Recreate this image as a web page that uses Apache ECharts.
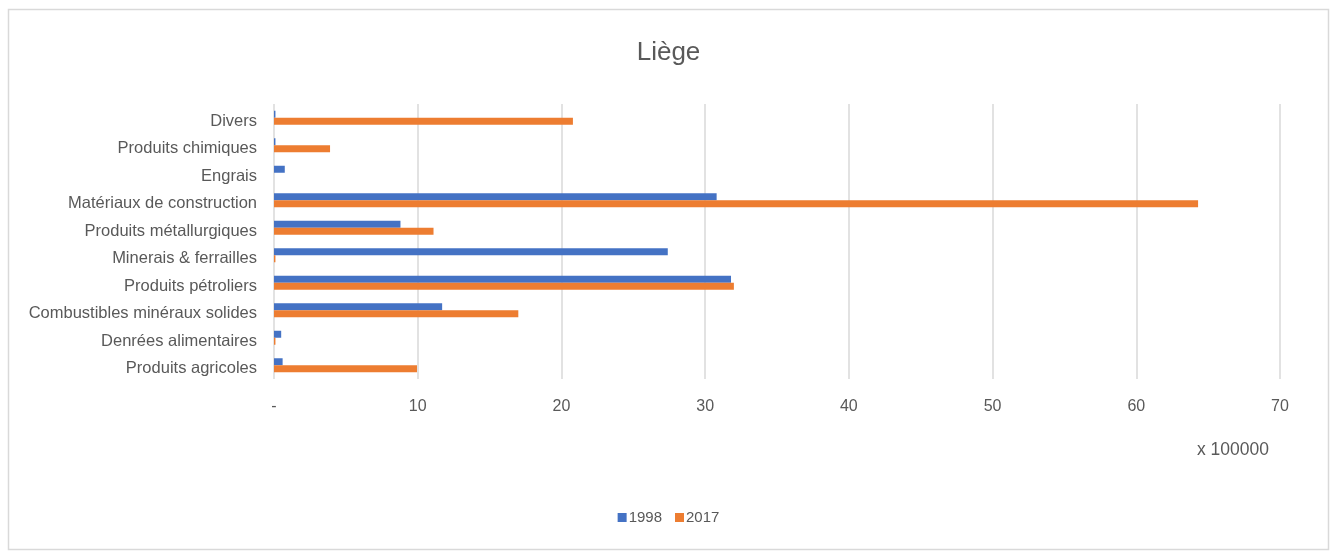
<!DOCTYPE html>
<html lang="fr">
<head>
    <meta charset="UTF-8">
    <title>Liège</title>
    <script src="https://cdn.jsdelivr.net/npm/echarts@6/dist/echarts.min.js"></script>
    <style>
        html, body { margin: 0; padding: 0; background: #ffffff; }
        #main { width: 1337px; height: 554px; }
    </style>
</head>
<body>
<div id="main"></div>
<script type="text/javascript">
    // catégories, de haut en bas
    var categories = ['Divers', 'Produits chimiques', 'Engrais', 'Matériaux de construction',
        'Produits métallurgiques', 'Minerais & ferrailles', 'Produits pétroliers',
        'Combustibles minéraux solides', 'Denrées alimentaires', 'Produits agricoles'];
    // valeurs en x 100000
    var values1998 = [0.1, 0.1, 0.75, 30.8, 8.8, 27.4, 31.8, 11.7, 0.5, 0.6];
    var values2017 = [20.8, 3.9, 0, 64.3, 11.1, 0.1, 32.0, 17.0, 0.1, 9.95];
    var xTicks = [0, 10, 20, 30, 40, 50, 60, 70];

    var myChart = echarts.init(document.getElementById('main'));
    var txt = '#595959';
    var font = '"Liberation Sans", Arial, sans-serif';

    myChart.setOption({
        backgroundColor: '#ffffff',
        animation: false,
        textStyle: {fontFamily: font},
        title: {
            text: 'Liège',
            left: 'center',
            top: 35,
            textStyle: {fontSize: 26, fontWeight: 'normal', color: txt, fontFamily: font}
        },
        legend: {
            bottom: 24,
            left: 'center',
            itemWidth: 9,
            itemHeight: 9,
            itemGap: 13,
            icon: 'rect',
            textStyle: {fontSize: 15, color: txt, padding: [0, 0, 0, -3]},
            data: ['1998', '2017']
        },
        grid: {
            left: 274,
            right: 57,
            top: 104,
            bottom: 175
        },
        graphic: [
            {
                type: 'rect',
                shape: {x: 8.5, y: 9.5, width: 1320, height: 540},
                style: {fill: 'none', stroke: '#d9d9d9', lineWidth: 1.5},
                silent: true
            },
            {
                type: 'text',
                left: 1197,
                top: 441,
                style: {text: 'x 100000', fontSize: 17.5, fill: txt, fontFamily: font}
            }
        ],
        xAxis: {
            type: 'value',
            min: xTicks[0],
            max: xTicks[xTicks.length - 1],
            interval: 10,
            axisLine: {show: false},
            axisTick: {show: false},
            axisLabel: {
                fontSize: 16,
                color: txt,
                margin: 20,
                formatter: function (v) { return v === 0 ? '-' : v; }
            },
            splitLine: {lineStyle: {color: '#d9d9d9', width: 1.5}}
        },
        yAxis: {
            type: 'category',
            inverse: true,
            data: categories,
            axisLine: {show: false},
            axisTick: {show: false},
            axisLabel: {
                color: txt,
                margin: 17,
                formatter: function (v) { return '{c|' + v + '}'; },
                rich: {
                    c: {fontSize: 16.5, color: txt, fontFamily: font, padding: [7, 0, 0, 0]}
                }
            }
        },
        series: [
            {
                name: '1998',
                type: 'bar',
                data: values1998,
                barWidth: 7,
                barGap: '0%',
                itemStyle: {color: '#4472c4'}
            },
            {
                name: '2017',
                type: 'bar',
                data: values2017,
                barWidth: 7,
                itemStyle: {color: '#ed7d31'}
            }
        ]
    });
    window.addEventListener("resize", function () {
        myChart.resize();
    });
</script>
</body>
</html>
